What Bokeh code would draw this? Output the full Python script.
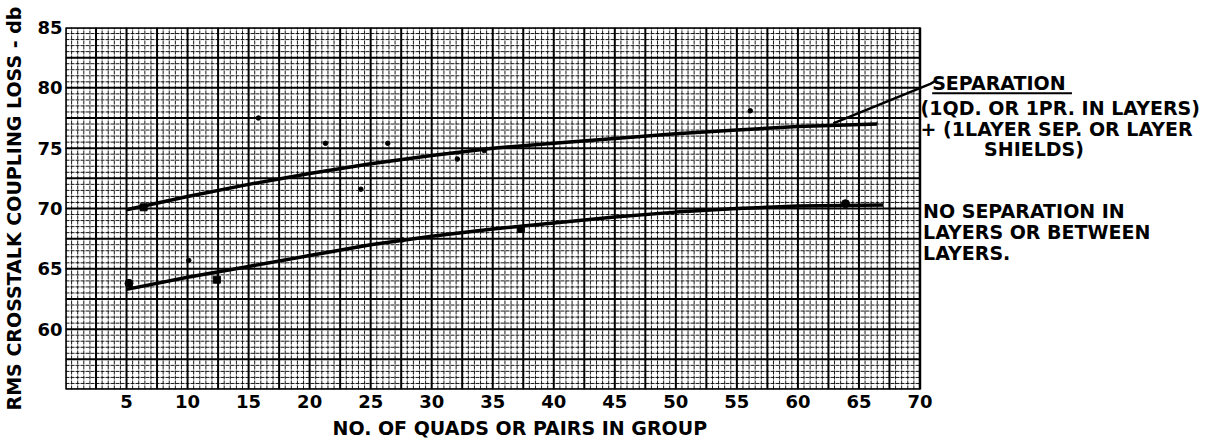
import numpy as np
from bokeh.plotting import figure
from bokeh.models import Range1d, FixedTicker, Title
from bokeh.core.properties import value
from bokeh.embed import file_html
from bokeh.resources import INLINE

# ---- data ----
sep_x = [5, 10, 15, 20, 25, 30, 35, 40, 45, 50, 55, 60, 66.5]
sep_y = [69.9, 71.0, 72.0, 72.9, 73.7, 74.4, 75.0, 75.4, 75.8, 76.2, 76.5, 76.8, 77.0]

nosep_x = [5, 10, 15, 20, 25, 30, 35, 40, 45, 50, 55, 60, 67]
nosep_y = [63.3, 64.3, 65.2, 66.1, 67.0, 67.7, 68.3, 68.8, 69.3, 69.7, 70.0, 70.2, 70.3]

dot_x = [15.8, 21.3, 24.2, 26.4, 32.1, 34.3, 56.1, 10.1, 27.6]
dot_y = [77.5, 75.4, 71.6, 75.4, 74.1, 74.8, 78.1, 65.7, 67.4]

square_x = [6.4, 12.4, 37.3]
square_y = [70.1, 64.1, 68.3]

big_x = [5.2, 63.9]
big_y = [63.8, 70.4]

x_ticks = [5, 10, 15, 20, 25, 30, 35, 40, 45, 50, 55, 60, 65, 70]
y_ticks = [60, 65, 70, 75, 80, 85]

leader_x = [62.9, 70.8, 71.3]
leader_y = [77.05, 80.3, 80.6]

note_lines = ["SEPARATION", "(1QD. OR 1PR. IN LAYERS)", "+ (1LAYER SEP. OR LAYER", "SHIELDS)",
              "NO SEPARATION IN", "LAYERS OR BETWEEN", "LAYERS."]
note_x = [71.0, 70.05, 70.05, 75.25, 70.25, 70.25, 70.25]
note_y = [80.40, 78.35, 76.55, 74.95, 69.80, 68.05, 66.30]

FONT = "DejaVu Sans"

p = figure(frame_width=1145, frame_height=362,
           x_range=Range1d(0, 93.8), y_range=Range1d(55, 85),
           output_backend="svg", toolbar_location=None,
           min_border_left=63, min_border_right=0, min_border_top=27, min_border_bottom=55)
p.outline_line_color = None
p.grid.visible = False
p.background_fill_color = "white"

# ---- graph-paper grid (limited to the chart area) ----
all_x = np.round(np.arange(0, 70.001, 0.5), 3)
all_y = np.round(np.arange(55, 85.001, 0.5), 3)
maj_x = [v for v in all_x if abs(v / 2.5 - round(v / 2.5)) < 1e-6]
min_x = [v for v in all_x if abs(v / 2.5 - round(v / 2.5)) >= 1e-6]
maj_y = [v for v in all_y if abs(v / 2.5 - round(v / 2.5)) < 1e-6]
min_y = [v for v in all_y if abs(v / 2.5 - round(v / 2.5)) >= 1e-6]

p.segment(x0=min_x, y0=55, x1=min_x, y1=85, line_color="black", line_width=1, line_alpha=0.9, line_dash="4 1")
p.segment(x0=0, y0=min_y, x1=70, y1=min_y, line_color="black", line_width=1, line_alpha=0.9, line_dash="4 1")
p.segment(x0=maj_x, y0=55, x1=maj_x, y1=85, line_color="black", line_width=2)
p.segment(x0=0, y0=maj_y, x1=70, y1=maj_y, line_color="black", line_width=2)
p.quad(left=0, right=70, bottom=55, top=85, fill_color=None, line_color="black", line_width=2.5)

# ---- curves and points ----
p.line(sep_x, sep_y, line_color="black", line_width=3.5)
p.line(nosep_x, nosep_y, line_color="black", line_width=3.5)
p.line(leader_x, leader_y, line_color="black", line_width=2.5)
p.scatter(dot_x, dot_y, size=4.5, color="black")
p.scatter(square_x, square_y, marker="square", size=7, color="black")
p.scatter(big_x, big_y, size=8, color="black")

# ---- annotations at right ----
p.text(x=note_x, y=note_y, text=note_lines, text_font=value(FONT), text_font_style="bold",
       text_font_size="19px", text_baseline="alphabetic", text_align="left", text_color="black")
p.line([71.0, 82.45], [79.55, 79.55], line_color="black", line_width=2)

# ---- axes ----
for ax in (p.xaxis, p.yaxis):
    ax.axis_line_color = None
    ax.major_tick_line_color = None
    ax.minor_tick_line_color = None
    ax.major_tick_out = 0
    ax.major_tick_in = 0
    ax.major_label_text_font = FONT
    ax.major_label_text_font_style = "bold"
    ax.major_label_text_font_size = "18px"
    ax.major_label_text_color = "black"

p.xaxis.ticker = FixedTicker(ticks=x_ticks)
p.yaxis.ticker = FixedTicker(ticks=y_ticks)
p.xaxis.major_label_standoff = 5
p.yaxis.major_label_standoff = 3

p.yaxis.axis_label = "RMS CROSSTALK COUPLING LOSS - db"
p.yaxis.axis_label_text_font = FONT
p.yaxis.axis_label_text_font_style = "bold"
p.yaxis.axis_label_text_font_size = "19px"
p.yaxis.axis_label_text_color = "black"
p.yaxis.axis_label_standoff = 9

xlabel = Title(text="NO. OF QUADS OR PAIRS IN GROUP", align="left", offset=267, standoff=8,
               text_font=FONT, text_font_style="bold", text_font_size="19px", text_color="black")
p.add_layout(xlabel, "below")

open("out.html", "w").write(file_html(p, INLINE))
